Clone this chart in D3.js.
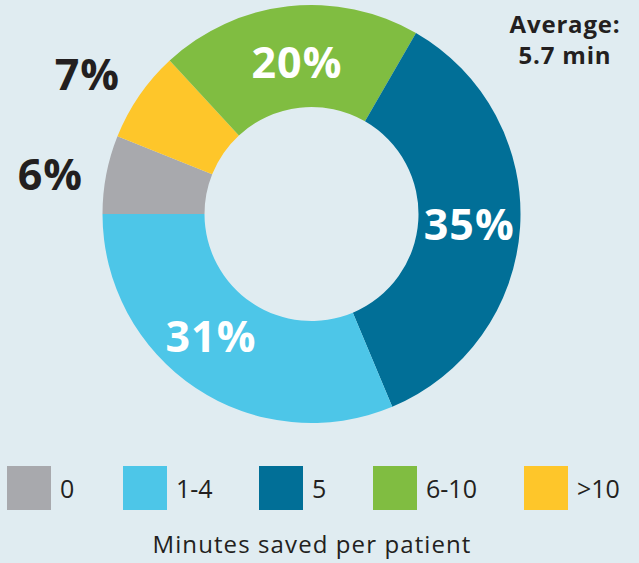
<!DOCTYPE html>
<html>
<head>
<meta charset="utf-8">
<script src="https://cdn.jsdelivr.net/npm/d3@7"></script>
<style>
  body { margin: 0; background: #e0ecf1; }
  svg { display: block; font-family: "Open Sans", sans-serif; }
</style>
</head>
<body>
<div id="chart"></div>
<script>
// chart size
var svgWidth = 639;
var svgHeight = 563;

// data (clockwise from 9 o'clock)
var categories = ["0", ">10", "6-10", "5", "1-4"];
var values = [6, 7, 20, 35, 31];
var colors = ["#a8a9ad", "#fec62a", "#80bd41", "#016f97", "#4dc6e8"];

// legend order
var legendCats = ["0", "1-4", "5", "6-10", ">10"];
var legendX = [7, 123, 259, 373, 524];

// small hand nudges for label placement
var nudge = { "6-10": [3, 6], "1-4": [-13, -9], ">10": [-5, 0] };

var cx = 311.5, cy = 214;
var outerR = 209, innerR = 107;

var svg = d3.select("#chart")
  .append("svg")
  .attr("width", svgWidth)
  .attr("height", svgHeight);

svg.append("rect")
  .attr("width", svgWidth)
  .attr("height", svgHeight)
  .attr("fill", "#e0ecf1");

var color = d3.scaleOrdinal().domain(categories).range(colors);

var pie = d3.pie()
  .sort(null)
  .value(d => d.value)
  .startAngle(-Math.PI / 2)
  .endAngle(Math.PI * 1.5);

var data = categories.map((c, i) => ({ cat: c, value: values[i] }));
var arcs = pie(data);

var arc = d3.arc().innerRadius(innerR).outerRadius(outerR);
var labelArc = d3.arc().innerRadius(158).outerRadius(158);
var outArc = d3.arc().innerRadius(266).outerRadius(266);

var chartGroup = svg.append("g")
  .attr("transform", `translate(${cx}, ${cy})`);

chartGroup.selectAll("path")
  .data(arcs)
  .enter()
  .append("path")
  .attr("d", arc)
  .attr("fill", d => color(d.data.cat));

// percent labels: small slices outside in dark, others inside in white
chartGroup.selectAll("text.pct")
  .data(arcs)
  .enter()
  .append("text")
  .attr("class", "pct")
  .attr("transform", function(d) {
    var small = d.data.value < 10;
    var p = small ? outArc.centroid(d) : labelArc.centroid(d);
    if (small) p[1] += 11;
    var n = nudge[d.data.cat] || [0, 0];
    return `translate(${p[0] + n[0]}, ${p[1] + n[1]})`;
  })
  .attr("dy", "0.36em")
  .attr("text-anchor", "middle")
  .attr("font-size", 43)
  .attr("font-weight", 700)
  .attr("letter-spacing", 1)
  .attr("fill", d => d.data.value < 10 ? "#231f20" : "#ffffff")
  .text(d => d.data.value + "%");

// average note
svg.append("text")
  .attr("x", 565)
  .attr("y", 33)
  .attr("text-anchor", "middle")
  .attr("font-size", 24)
  .attr("font-weight", 700)
  .attr("letter-spacing", 0.8)
  .attr("fill", "#231f20")
  .text("Average:");

svg.append("text")
  .attr("x", 565)
  .attr("y", 64)
  .attr("text-anchor", "middle")
  .attr("font-size", 24)
  .attr("font-weight", 700)
  .attr("letter-spacing", 0.8)
  .attr("fill", "#231f20")
  .text("5.7 min");

// legend
var legend = svg.selectAll("g.legend")
  .data(legendCats)
  .enter()
  .append("g")
  .attr("class", "legend")
  .attr("transform", (d, i) => `translate(${legendX[i]}, 466)`);

legend.append("rect")
  .attr("width", 44)
  .attr("height", 44)
  .attr("fill", d => color(d));

legend.append("text")
  .attr("x", 53)
  .attr("y", 32)
  .attr("font-size", 25)
  .attr("fill", "#231f20")
  .text(d => d);

svg.append("text")
  .attr("x", 312)
  .attr("y", 553)
  .attr("text-anchor", "middle")
  .attr("font-size", 24)
  .attr("letter-spacing", 1.1)
  .attr("fill", "#231f20")
  .text("Minutes saved per patient");
</script>
</body>
</html>
